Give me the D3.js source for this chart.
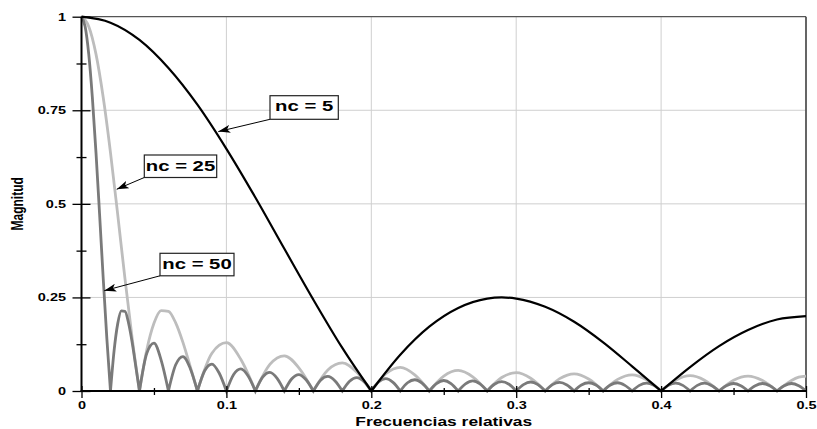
<!DOCTYPE html>
<html>
<head>
<meta charset="utf-8">
<script src="https://cdn.jsdelivr.net/npm/d3@7/dist/d3.min.js"></script>
<style>
  body { margin: 0; background: #fff; }
  svg { display: block; font-family: "Liberation Sans", Arial, Helvetica, sans-serif; font-weight: bold; }
</style>
</head>
<body>
<svg id="chart" width="817" height="429"></svg>
<script>
// Moving-average magnitude response |H(f)| for three window lengths.
const freq5 = [0, 0.02, 0.04, 0.06, 0.08, 0.10, 0.12, 0.14, 0.16, 0.18, 0.20,
  0.22, 0.24, 0.26, 0.28, 0.29, 0.30, 0.32, 0.34, 0.36, 0.38, 0.40,
  0.42, 0.44, 0.46, 0.48, 0.50];
const mag5 = [1, 0.984, 0.938, 0.863, 0.765, 0.647, 0.517, 0.380, 0.244, 0.115, 0,
  0.097, 0.172, 0.222, 0.247, 0.250, 0.247, 0.225, 0.185, 0.130, 0.066, 0,
  0.064, 0.120, 0.163, 0.191, 0.200];

const freq25 = [0, 0.005, 0.01, 0.015, 0.02, 0.025, 0.03, 0.035, 0.04,
  0.045, 0.05, 0.055, 0.06, 0.065, 0.07, 0.075, 0.08,
  0.09, 0.10, 0.11, 0.12,
  0.13, 0.14, 0.15, 0.16,
  0.17, 0.18, 0.19, 0.20,
  0.21, 0.22, 0.23, 0.24,
  0.25, 0.26, 0.27, 0.28,
  0.29, 0.30, 0.31, 0.32,
  0.33, 0.34, 0.35, 0.36,
  0.37, 0.38, 0.39, 0.40,
  0.41, 0.42, 0.43, 0.44,
  0.45, 0.46, 0.47, 0.48,
  0.485, 0.49, 0.495, 0.50];
const mag25 = [1, 0.974, 0.900, 0.784, 0.637, 0.471, 0.300, 0.140, 0,
  0.109, 0.181, 0.215, 0.213, 0.182, 0.130, 0.066, 0,
  0.101, 0.129, 0.084, 0,
  0.071, 0.094, 0.062, 0,
  0.056, 0.075, 0.050, 0,
  0.046, 0.063, 0.043, 0,
  0.040, 0.055, 0.038, 0,
  0.036, 0.049, 0.034, 0,
  0.033, 0.046, 0.032, 0,
  0.031, 0.043, 0.030, 0,
  0.029, 0.041, 0.029, 0,
  0.029, 0.040, 0.028, 0,
  0.015, 0.028, 0.037, 0.040];

const freq50 = [0, 0.0025, 0.005, 0.0075, 0.01, 0.0125, 0.015, 0.0175, 0.02,
  0.0225, 0.025, 0.0275, 0.03, 0.0325, 0.035, 0.0375, 0.04,
  0.045, 0.05, 0.055, 0.06,
  0.065, 0.07, 0.075, 0.08,
  0.085, 0.09, 0.095, 0.10,
  0.105, 0.11, 0.115, 0.12,
  0.125, 0.13, 0.135, 0.14,
  0.145, 0.15, 0.155, 0.16,
  0.165, 0.17, 0.175, 0.18,
  0.185, 0.19, 0.195, 0.20,
  0.205, 0.21, 0.215, 0.22,
  0.225, 0.23, 0.235, 0.24,
  0.245, 0.25, 0.255, 0.26,
  0.265, 0.27, 0.275, 0.28,
  0.285, 0.29, 0.295, 0.30,
  0.305, 0.31, 0.315, 0.32,
  0.325, 0.33, 0.335, 0.34,
  0.345, 0.35, 0.355, 0.36,
  0.365, 0.37, 0.375, 0.38,
  0.385, 0.39, 0.395, 0.40,
  0.405, 0.41, 0.415, 0.42,
  0.425, 0.43, 0.435, 0.44,
  0.445, 0.45, 0.455, 0.46,
  0.465, 0.47, 0.475, 0.48,
  0.485, 0.49, 0.495, 0.50];
const mag50 = [1, 0.974, 0.900, 0.784, 0.637, 0.471, 0.300, 0.140, 0,
  0.108, 0.180, 0.214, 0.213, 0.181, 0.129, 0.065, 0,
  0.100, 0.128, 0.082, 0,
  0.070, 0.092, 0.061, 0,
  0.054, 0.072, 0.048, 0,
  0.044, 0.059, 0.040, 0,
  0.037, 0.050, 0.034, 0,
  0.032, 0.044, 0.030, 0,
  0.029, 0.039, 0.027, 0,
  0.026, 0.036, 0.025, 0,
  0.024, 0.033, 0.023, 0,
  0.022, 0.030, 0.021, 0,
  0.020, 0.028, 0.020, 0,
  0.019, 0.027, 0.019, 0,
  0.018, 0.025, 0.018, 0,
  0.017, 0.024, 0.017, 0,
  0.017, 0.023, 0.016, 0,
  0.016, 0.022, 0.016, 0,
  0.016, 0.022, 0.015, 0,
  0.015, 0.021, 0.015, 0,
  0.015, 0.021, 0.015, 0,
  0.015, 0.021, 0.014, 0,
  0.014, 0.020, 0.014, 0,
  0.014, 0.020, 0.014, 0,
  0.014, 0.020, 0.014, 0];

// Axis ticks and labels
const xTicks = [0, 0.1, 0.2, 0.3, 0.4, 0.5];
const xTickLabels = ["0", "0.1", "0.2", "0.3", "0.4", "0.5"];
const xMinorTicks = [0.05, 0.15, 0.25, 0.35, 0.45];
const yTicks = [0, 0.25, 0.5, 0.75, 1];
const yTickLabels = ["0", "0.25", "0.5", "0.75", "1"];
const yMinorTicks = [0.125, 0.375, 0.625, 0.875];

// Callout labels and the curve point each arrow points at
const calloutLabels = ["nc = 5", "nc = 25", "nc = 50"];
const calloutFreq = [0.0944, 0.0243, 0.0157];
const calloutMag = [0.693, 0.539, 0.268];

const svg = d3.select("#chart");
const W = 817, H = 429;
const plotL = 81.5, plotR = 806, plotT = 16.7, plotB = 391;
const STRETCH = 1.45;

const x = d3.scaleLinear().domain([0, 0.5]).range([plotL, plotR]);
const y = d3.scaleLinear().domain([0, 1]).range([plotB, plotT]);

svg.append("rect").attr("width", W).attr("height", H).attr("fill", "#fff");

// grid
const grid = svg.append("g").attr("stroke", "#cfcfcf").attr("stroke-width", 1);
grid.selectAll("line.gx").data(xTicks.filter(v => v > 0 && v < 0.5)).join("line")
  .attr("x1", d => x(d)).attr("x2", d => x(d)).attr("y1", plotT).attr("y2", plotB);
grid.selectAll("line.gy").data(yTicks.filter(v => v > 0 && v < 1)).join("line")
  .attr("x1", plotL).attr("x2", plotR).attr("y1", d => y(d)).attr("y2", d => y(d));

// frame on top and right
svg.append("line").attr("x1", plotL).attr("x2", plotR).attr("y1", plotT).attr("y2", plotT)
  .attr("stroke", "#555").attr("stroke-width", 1.3);
svg.append("line").attr("x1", plotR).attr("x2", plotR).attr("y1", plotT).attr("y2", plotB)
  .attr("stroke", "#555").attr("stroke-width", 1.8);

// curves: each lobe is smoothed separately so the zeros stay sharp
function lobePath(fs, ms) {
  const pts = fs.map((f, i) => [x(f), y(ms[i])]);
  const segs = [];
  let cur = [pts[0]];
  for (let i = 1; i < pts.length; i++) {
    cur.push(pts[i]);
    if (ms[i] === 0 && i < pts.length - 1) { segs.push(cur); cur = [pts[i]]; }
  }
  segs.push(cur);
  const gen = d3.line().curve(d3.curveMonotoneX);
  return segs.map((s, j) => {
    const d = gen(s);
    return j === 0 ? d : d.replace(/^M[^A-Za-z]*/, "");
  }).join("");
}

const series = [
  { f: freq25, m: mag25, color: "#bdbdbd", w: 2.8 },
  { f: freq50, m: mag50, color: "#7a7a7a", w: 2.8 },
  { f: freq5, m: mag5, color: "#000", w: 2.2 }
];
svg.append("g").selectAll("path").data(series).join("path")
  .attr("d", s => lobePath(s.f, s.m))
  .attr("fill", "none")
  .attr("stroke", s => s.color)
  .attr("stroke-width", s => s.w)
  .attr("stroke-linejoin", "miter")
  .attr("stroke-miterlimit", 3);

// y axis
const yAxis = svg.append("g").attr("transform", `translate(${plotL},0)`)
  .call(d3.axisLeft(y).tickValues(yTicks).tickSizeOuter(0)
    .tickFormat((d, i) => yTickLabels[i]));
yAxis.select(".domain").remove();
yAxis.selectAll(".tick line").attr("x1", -9).attr("x2", 9).attr("stroke", "#000").attr("stroke-width", 1.3);
yAxis.selectAll(".tick text")
  .attr("x", -15.5 / STRETCH).attr("dy", "0.34em")
  .attr("transform", `scale(${STRETCH},1)`)
  .attr("font-size", 10).attr("font-weight", "bold").attr("fill", "#000")
  .attr("font-family", "'Liberation Sans', Arial, sans-serif");
const yMinor = svg.append("g").attr("transform", `translate(${plotL},0)`)
  .call(d3.axisLeft(y).tickValues(yMinorTicks).tickFormat(""));
yMinor.select(".domain").remove();
yMinor.selectAll(".tick line").attr("x1", -5).attr("x2", 5).attr("stroke", "#000").attr("stroke-width", 1.3);

// x axis
const xAxis = svg.append("g").attr("transform", `translate(0,${plotB})`)
  .call(d3.axisBottom(x).tickValues(xTicks).tickSizeOuter(0)
    .tickFormat((d, i) => xTickLabels[i]));
xAxis.select(".domain").remove();
xAxis.selectAll(".tick line").attr("y1", -5).attr("y2", 7).attr("stroke", "#000").attr("stroke-width", 1.3);
xAxis.selectAll(".tick text")
  .attr("y", 18.5).attr("dy", 0)
  .attr("transform", `scale(${STRETCH},1)`)
  .attr("font-size", 10).attr("font-weight", "bold").attr("fill", "#000")
  .attr("font-family", "'Liberation Sans', Arial, sans-serif");
const xMinor = svg.append("g").attr("transform", `translate(0,${plotB})`)
  .call(d3.axisBottom(x).tickValues(xMinorTicks).tickFormat(""));
xMinor.select(".domain").remove();
xMinor.selectAll(".tick line").attr("y1", -3).attr("y2", 4).attr("stroke", "#000").attr("stroke-width", 1.3);

// axis lines
svg.append("line").attr("x1", plotL).attr("x2", plotL).attr("y1", plotT).attr("y2", plotB + 1)
  .attr("stroke", "#000").attr("stroke-width", 2);
svg.append("line").attr("x1", plotL - 1).attr("x2", plotR).attr("y1", plotB).attr("y2", plotB)
  .attr("stroke", "#000").attr("stroke-width", 2);

// axis titles
svg.append("text")
  .attr("transform", `translate(${(plotL + plotR) / 2},425.5) scale(${STRETCH},1)`)
  .attr("text-anchor", "middle").attr("font-size", 12).text("Frecuencias relativas");
svg.append("text")
  .attr("transform", `translate(22.5,${(plotT + plotB) / 2}) scale(${STRETCH},1) rotate(-90)`)
  .attr("text-anchor", "middle").attr("font-size", 12).text("Magnitud");

// callouts
const defs = svg.append("defs");
defs.append("marker").attr("id", "arrow")
  .attr("viewBox", "0 0 12 8").attr("refX", 12).attr("refY", 4)
  .attr("markerWidth", 12).attr("markerHeight", 8)
  .attr("markerUnits", "userSpaceOnUse").attr("orient", "auto")
  .append("path").attr("d", "M0,0 L12,4 L0,8 L3,4 Z").attr("fill", "#000");

const boxes = [
  { x0: 270, y0: 95.7, w: 68.3, h: 23.6 },
  { x0: 144.3, y0: 155, w: 72.4, h: 22.5 },
  { x0: 160, y0: 253.3, w: 74, h: 22.5 }
];
const callouts = svg.append("g");
boxes.forEach((b, i) => {
  callouts.append("line")
    .attr("x1", b.x0).attr("y1", b.y0 + b.h)
    .attr("x2", x(calloutFreq[i])).attr("y2", y(calloutMag[i]))
    .attr("stroke", "#000").attr("stroke-width", 1)
    .attr("marker-end", "url(#arrow)");
  callouts.append("rect")
    .attr("x", b.x0).attr("y", b.y0).attr("width", b.w).attr("height", b.h)
    .attr("fill", "#fff").attr("stroke", "#222").attr("stroke-width", 1.2);
  callouts.append("text")
    .attr("transform", `translate(${b.x0 + b.w / 2},${b.y0 + 15.6}) scale(${STRETCH},1)`)
    .attr("text-anchor", "middle").attr("font-size", 14).text(calloutLabels[i]);
});
</script>
</body>
</html>
